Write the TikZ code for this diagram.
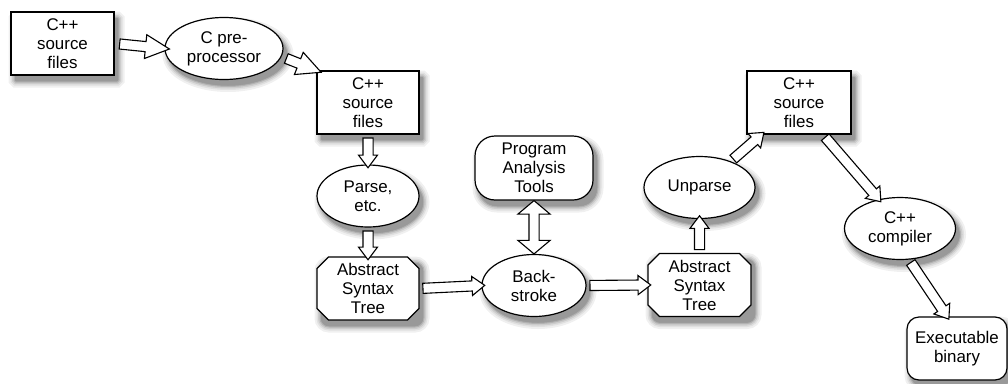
\documentclass[tikz,border=0pt]{standalone}
\usepackage{fontspec}
\setmainfont{Liberation Sans}
\usetikzlibrary{calc, shapes.geometric, shapes.misc, shapes.arrows}
\newcommand{\fsNode}{\fontsize{16.9}{19}\selectfont}
\tikzset{
  base/.style={draw, line width=1.2pt, fill=white, font=\fsNode, align=center, inner sep=0pt},
  srcbox/.style={base, rectangle, minimum width=103pt, minimum height=63pt},
  procblob/.style={base, ellipse, minimum height=62pt},
  treebox/.style={base, chamfered rectangle, chamfered rectangle xsep=8pt,
    chamfered rectangle angle=45, minimum width=102pt, minimum height=63pt},
  toolbox/.style={base, rectangle, rounded corners=20pt, minimum width=118pt, minimum height=64pt},
  binbox/.style={base, rectangle, rounded corners=12pt, minimum width=100pt, minimum height=63pt},
  fatarrow/.style={draw, line width=1.1pt, fill=white, single arrow, inner xsep=0pt, inner ysep=4.5pt,
    single arrow head extend=4.5pt, single arrow tip angle=74},
  bigtip/.style={single arrow head extend=6.9pt, single arrow tip angle=53},
  twoway/.style={draw, line width=1.1pt, fill=white, double arrow, inner xsep=0pt, inner ysep=4.5pt,
    double arrow head extend=11pt, double arrow tip angle=100},
}
% hollow arrow from one anchor to another
\newcommand{\hollow}[3][fatarrow]{%
  \path let \p1=(#2), \p2=(#3),
    \n1={atan2(\y2-\y1,\x2-\x1)}, \n2={veclen(\x2-\x1,\y2-\y1)} in
    node[#1, minimum height=\n2, rotate=\n1] at ($(\p1)!0.5!(\p2)$) {};}
% soft shadows as stacked strokes: [corner]{centre}{half width}{half height}
\newcommand{\boxshade}[4][1pt]{%
  \foreach \w/\g in {13/6,9/12,6/20,3/30}{
    \draw[black!\g, line width=\w pt, rounded corners=#1]
      ($(#2)+(4-#3,-6-#4)$) rectangle ($(#2)+(4+#3,-6+#4)$);}
  \filldraw[black!40, line width=0.5pt, rounded corners=#1]
    ($(#2)+(4-#3,-6-#4)$) rectangle ($(#2)+(4+#3,-6+#4)$);}
\newcommand{\blobshade}[3]{%
  \foreach \w/\g in {13/6,9/12,6/20,3/30}{
    \draw[black!\g, line width=\w pt] ($(#1)+(4,-6)$) ellipse [x radius=#2, y radius=#3];}
  \filldraw[black!40, line width=0.5pt] ($(#1)+(4,-6)$) ellipse [x radius=#2, y radius=#3];}

\begin{document}
\begin{tikzpicture}[x=1pt, y=1pt]
  \useasboundingbox (0,0) rectangle (1008,-383);
  % centres
  \coordinate (src1pos) at (62.5,-43.5);
  \coordinate (cpppos) at (224,-48.5);
  \coordinate (src2pos) at (368,-102.5);
  \coordinate (parsepos) at (368,-196);
  \coordinate (ast1pos) at (368,-288.5);
  \coordinate (patpos) at (534,-168);
  \coordinate (backpos) at (534,-285.5);
  \coordinate (ast2pos) at (699.5,-285);
  \coordinate (unparsepos) at (699.5,-187.5);
  \coordinate (src3pos) at (799,-102.5);
  \coordinate (comppos) at (900,-228.5);
  \coordinate (exepos) at (957,-348.5);
  % shadows
  \boxshade{src1pos}{51.5}{31.5}
  \boxshade{src2pos}{51}{31.5}
  \boxshade{src3pos}{52}{31.5}
  \boxshade[8pt]{ast1pos}{51}{31.5}
  \boxshade[8pt]{ast2pos}{51.5}{31.5}
  \boxshade[18pt]{patpos}{59}{32}
  \boxshade[11pt]{exepos}{50}{31.5}
  \blobshade{cpppos}{59}{31}
  \blobshade{parsepos}{51}{31}
  \blobshade{backpos}{52}{31}
  \blobshade{unparsepos}{55.5}{31}
  \blobshade{comppos}{55.5}{31}
  % nodes
  \node[srcbox] (src1) at (src1pos) {C++\\source\\files};
  \node[procblob, minimum width=118pt] (cpp) at (cpppos) {C pre-\\processor};
  \node[srcbox, minimum width=102pt] (src2) at (src2pos) {C++\\source\\files};
  \node[procblob, minimum width=102pt] (parse) at (parsepos) {Parse,\\etc.};
  \node[treebox] (ast1) at (ast1pos) {Abstract\\Syntax\\Tree};
  \node[toolbox] (pat) at (patpos) {Program\\Analysis\\Tools};
  \node[procblob, minimum width=104pt] (back) at (backpos) {Back-\\stroke};
  \node[treebox, minimum width=103pt] (ast2) at (ast2pos) {Abstract\\Syntax\\Tree};
  \node[procblob, minimum width=111pt] (unparse) at (unparsepos) {Unparse};
  \node[srcbox, minimum width=104pt] (src3) at (src3pos) {C++\\source\\files};
  \node[procblob, minimum width=111pt] (comp) at (comppos) {C++\\compiler};
  \node[binbox] (exe) at (exepos) {Executable\\binary};
  % connectors
  \hollow[fatarrow,bigtip]{src1.east}{cpp.west}
  \hollow[fatarrow,bigtip]{cpp.-8}{src2.north west}
  \hollow{src2.south}{parse.north}
  \hollow{parse.south}{ast1.north}
  \hollow{ast1.east}{back.west}
  \hollow[twoway]{back.north}{pat.south}
  \hollow{back.east}{ast2.west}
  \hollow{ast2.north}{unparse.south}
  \hollow{unparse.40}{$(src3.south west)+(15,0)$}
  \hollow{$(src3.south)+(24,0)$}{comp.126}
  \hollow{comp.-74}{$(exe.north)+(-10,0)$}
\end{tikzpicture}
\end{document}
